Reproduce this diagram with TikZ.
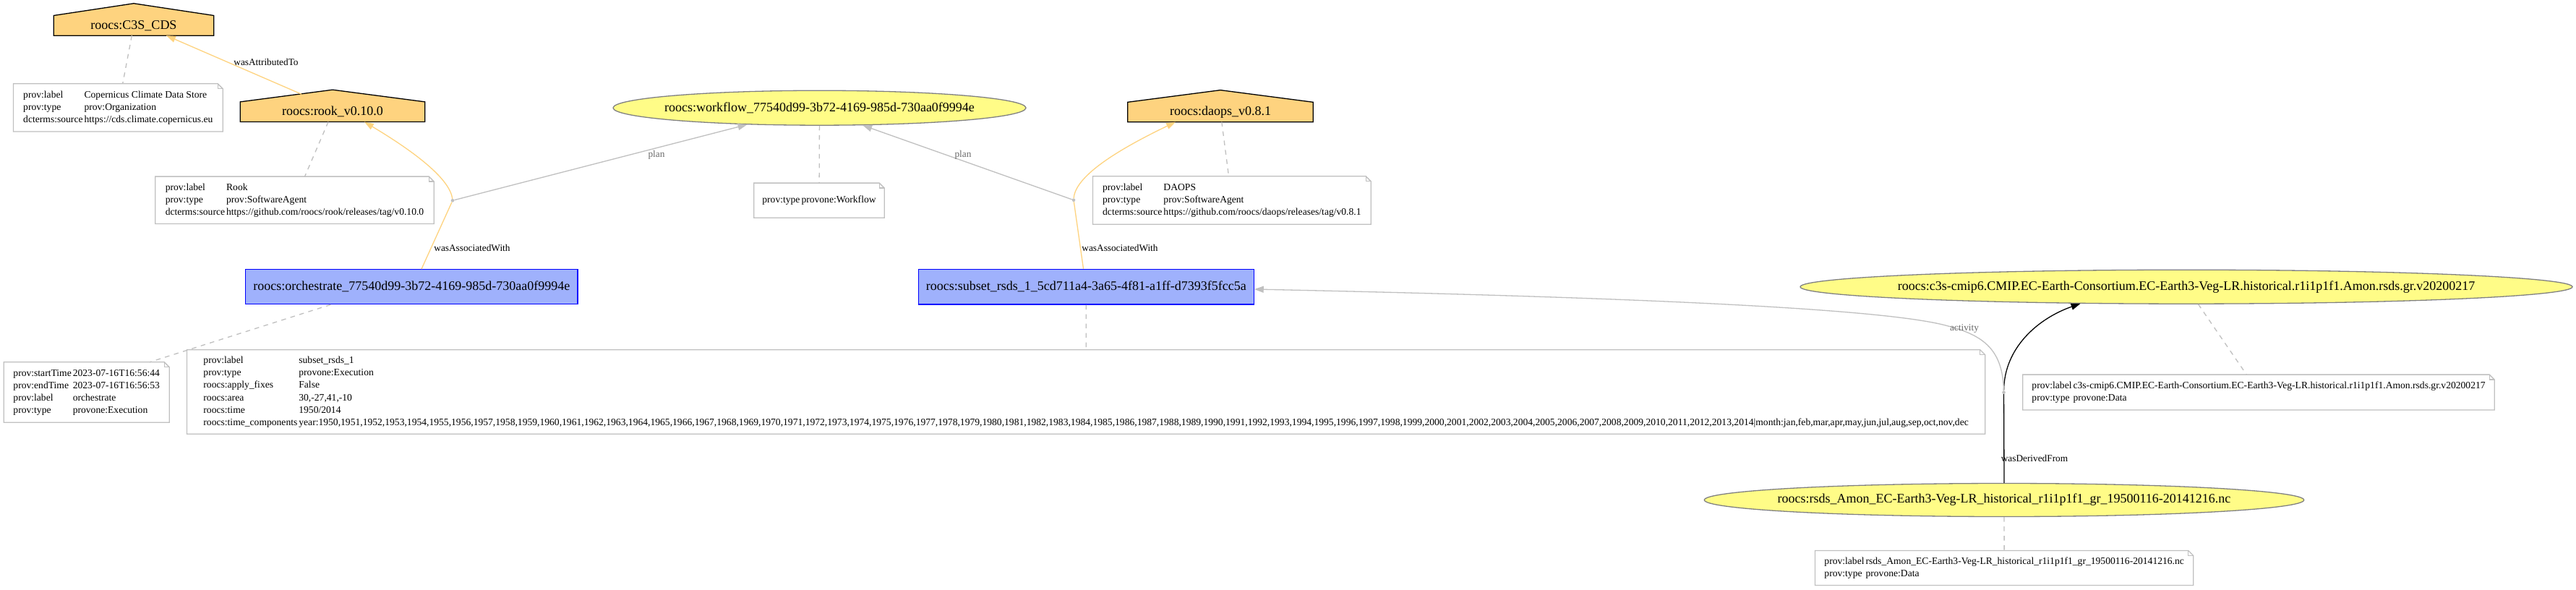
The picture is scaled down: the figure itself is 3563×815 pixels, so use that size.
\documentclass[tikz,border=0pt]{standalone}
\usepackage{fontspec}
\setmainfont{Liberation Serif}
\usetikzlibrary{arrows.meta,backgrounds,shapes.geometric}
\definecolor{agentfill}{HTML}{FED37F}
\definecolor{actfill}{HTML}{9FB1FC}
\definecolor{actline}{HTML}{0000FF}
\definecolor{entfill}{HTML}{FFFC87}
\definecolor{entline}{HTML}{808080}
\definecolor{gvgray}{HTML}{C0C0C0}
\definecolor{gvdimgray}{HTML}{696969}
\tikzset{
  lw/.style={line width=1.3pt},
  bigtext/.style={font=\fontsize{18}{21.6}\selectfont},
  notetext/.style={font=\fontsize{13.6}{17.2}\selectfont},
  labeltext/.style={font=\fontsize{13.3}{16}\selectfont},
  agentbox/.style={rectangle, inner sep=0pt, bigtext},
  actbox/.style={rectangle, inner sep=0pt, draw=actline, fill=actfill, lw, bigtext},
  entbox/.style={ellipse, inner sep=0pt, draw=entline, fill=entfill, lw, bigtext},
  notebox/.style={rectangle, inner sep=0pt, notetext},
  annlink/.style={draw=gvgray, lw, dash pattern=on 6.5pt off 6.5pt},
  orangeedge/.style={draw=agentfill, lw},
  grayedge/.style={draw=gvgray, lw},
  blackedge/.style={draw=black, lw},
  tipped/.style={-{Triangle[length=12.9pt,width=9pt]}},
  edgelabel/.style={labeltext, inner sep=0pt},
  planlabel/.style={labeltext, inner sep=0pt, text=gvdimgray},
  bnode/.style={circle, fill=gvgray, inner sep=0pt, minimum size=4.6pt},
}
\newcommand\housebg[1]{%
  \begin{scope}[on background layer]
    \filldraw[fill=agentfill, draw=black, lw] (#1.south west) -- (#1.north west) -- ([yshift=16.7pt]#1.north) -- (#1.north east) -- (#1.south east) -- cycle;
  \end{scope}}
\newcommand\notebg[1]{%
  \begin{scope}[on background layer]
    \filldraw[fill=white, draw=gvgray, lw] (#1.south west) -- (#1.north west) -- ([xshift=-7pt]#1.north east) -- ([yshift=-7pt]#1.north east) -- (#1.south east) -- cycle;
    \draw[gvgray, lw] ([xshift=-7pt]#1.north east) -- ([xshift=-7pt,yshift=-7pt]#1.north east) -- ([yshift=-7pt]#1.north east);
  \end{scope}}
\newcommand\ptab[1]{\begin{tabular}{@{}l@{\hspace{2pt}}l@{}}#1\end{tabular}}
\begin{document}
\begin{tikzpicture}[x=1pt,y=-1pt]
\begin{scope}[on background layer]
  \fill[white] (0,0) rectangle (3563,815);
\end{scope}
\useasboundingbox (0,0) rectangle (3563,815);

% agents
\node[agentbox, minimum width=221pt, minimum height=27.3pt] (cds) at (185,35.3) {roocs:C3S\_CDS};
\housebg{cds}
\node[agentbox, minimum width=255pt, minimum height=27.3pt] (rook) at (460,154.7) {roocs:rook\_v0.10.0};
\housebg{rook}
\node[agentbox, minimum width=256pt, minimum height=27pt] (daops) at (1688,155) {roocs:daops\_v0.8.1};
\housebg{daops}

% entities
\node[entbox, minimum width=571pt, minimum height=48pt] (workflow) at (1133.5,149.2) {\makebox[0pt]{roocs:workflow\_77540d99-3b72-4169-985d-730aa0f9994e}};
\node[entbox, minimum width=1068pt, minimum height=47pt] (c3s) at (3024,396.7) {\makebox[0pt]{roocs:c3s-cmip6.CMIP.EC-Earth-Consortium.EC-Earth3-Veg-LR.historical.r1i1p1f1.Amon.rsds.gr.v20200217}};
\node[entbox, minimum width=829.4pt, minimum height=46pt] (rsds) at (2772,691.5) {\makebox[0pt]{roocs:rsds\_Amon\_EC-Earth3-Veg-LR\_historical\_r1i1p1f1\_gr\_19500116-20141216.nc}};

% activities
\node[actbox, minimum width=459.3pt, minimum height=48pt] (orch) at (569.4,396.7) {roocs:orchestrate\_77540d99-3b72-4169-985d-730aa0f9994e};
\node[actbox, minimum width=463.8pt, minimum height=48.7pt] (subset) at (1502.3,396.7) {roocs:subset\_rsds\_1\_5cd711a4-3a65-4f81-a1ff-d7393f5fcc5a};

% notes
\node[notebox, minimum width=289.3pt, minimum height=65.7pt] (ncds) at (163.35,148.85) {\ptab{prov:label & Copernicus Climate Data Store\\ prov:type & prov:Organization\\ dcterms:source & https://cds.climate.copernicus.eu}};
\notebg{ncds}
\node[notebox, minimum width=385pt, minimum height=65pt] (nrook) at (407.5,276.8) {\ptab{prov:label & Rook\\ prov:type & prov:SoftwareAgent\\ dcterms:source & https://github.com/roocs/rook/releases/tag/v0.10.0}};
\notebg{nrook}
\node[notebox, minimum width=180pt, minimum height=47.7pt] (nwf) at (1133,277.15) {\ptab{prov:type & provone:Workflow}};
\notebg{nwf}
\node[notebox, minimum width=384.3pt, minimum height=66pt] (ndaops) at (1703.85,277) {\ptab{prov:label & DAOPS\\ prov:type & prov:SoftwareAgent\\ dcterms:source & https://github.com/roocs/daops/releases/tag/v0.8.1}};
\notebg{ndaops}
\node[notebox, minimum width=228.6pt, minimum height=83pt] (norch) at (119.7,542.5) {\ptab{prov:startTime & 2023-07-16T16:56:44\\ prov:endTime & 2023-07-16T16:56:53\\ prov:label & orchestrate\\ prov:type & provone:Execution}};
\notebg{norch}
\node[notebox, minimum width=2486.8pt, minimum height=116pt] (nsubset) at (1502.1,542) {\ptab{prov:label & subset\_rsds\_1\\ prov:type & provone:Execution\\ roocs:apply\_fixes & False\\ roocs:area & 30,-27,41,-10\\ roocs:time & 1950/2014\\ roocs:time\_components & year:1950,1951,1952,1953,1954,1955,1956,1957,1958,1959,1960,1961,1962,1963,1964,1965,1966,1967,1968,1969,1970,1971,1972,1973,1974,1975,1976,1977,1978,1979,1980,1981,1982,1983,1984,1985,1986,1987,1988,1989,1990,1991,1992,1993,1994,1995,1996,1997,1998,1999,2000,2001,2002,2003,2004,2005,2006,2007,2008,2009,2010,2011,2012,2013,2014|month:jan,feb,mar,apr,may,jun,jul,aug,sep,oct,nov,dec}};
\notebg{nsubset}
\node[notebox, minimum width=652pt, minimum height=48.4pt] (nc3s) at (3124,542.5) {\ptab{prov:label & c3s-cmip6.CMIP.EC-Earth-Consortium.EC-Earth3-Veg-LR.historical.r1i1p1f1.Amon.rsds.gr.v20200217\\ prov:type & provone:Data}};
\notebg{nc3s}
\node[notebox, minimum width=522.9pt, minimum height=47.6pt] (nrsds) at (2772.15,785.5) {\ptab{prov:label & rsds\_Amon\_EC-Earth3-Veg-LR\_historical\_r1i1p1f1\_gr\_19500116-20141216.nc\\ prov:type & provone:Data}};
\notebg{nrsds}

% blank relation nodes
\node[bnode] (b1) at (626,277.3) {};
\node[bnode] (b2) at (1485,276.7) {};
\node[bnode] (b3) at (2771.5,542.7) {};
\coordinate (actmid) at (2687,449);

% annotation links
\draw[annlink] (cds) -- (ncds);
\draw[annlink] (rook) -- (nrook);
\draw[annlink] (workflow) -- (nwf);
\draw[annlink] (daops) -- (ndaops);
\draw[annlink] ([xshift=-112pt]orch.south) -- ([xshift=87.3pt]norch.north);
\draw[annlink] (subset) -- (nsubset);
\draw[annlink] (c3s) -- (nc3s);
\draw[annlink] (rsds) -- (nrsds);

% wasAttributedTo
\draw[orangeedge, tipped] ([xshift=-43pt,yshift=10.6pt]rook.north) -- ([xshift=45pt]cds.south);
\node[edgelabel] (lattr) at (368,86) {wasAttributedTo};

% association orchestrate -> rook, plan workflow
\draw[orangeedge] ([xshift=13.6pt]orch.north) -- (b1);
\draw[orangeedge, tipped] (b1) .. controls (622,245) and (565,205) .. ([xshift=44pt]rook.south);
\draw[grayedge, tipped] (b1) -- (workflow.193.7);
\node[edgelabel] (lassoc1) at (653,342.7) {wasAssociatedWith};
\node[planlabel] (lplan1) at (908,214) {plan};

% association subset -> daops, plan workflow
\draw[orangeedge] ([xshift=-3.8pt]subset.north) -- (b2);
\draw[orangeedge, tipped] (b2) .. controls (1487,245) and (1540,210) .. ([xshift=-62pt]daops.south);
\draw[grayedge, tipped] (b2) -- (workflow.338.65);
\node[edgelabel] (lassoc2) at (1549,343.3) {wasAssociatedWith};
\node[planlabel] (lplan2) at (1332,214) {plan};

% derivation rsds -> c3s, activity subset
\draw[blackedge] (rsds.north) -- (b3);
\draw[blackedge, tipped] (b3) .. controls (2772,480) and (2820,440) .. (c3s.189.5);
\draw[grayedge, tipped] (b3) .. controls (2770,480) and (2740,462) .. (actmid) .. controls (2600,428) and (2300,412) .. ([yshift=-3.3pt]subset.east);
\node[edgelabel] (lderiv) at (2814,634) {wasDerivedFrom};
\node[planlabel] (lact) at (2717,455) {activity};
\end{tikzpicture}
\end{document}
